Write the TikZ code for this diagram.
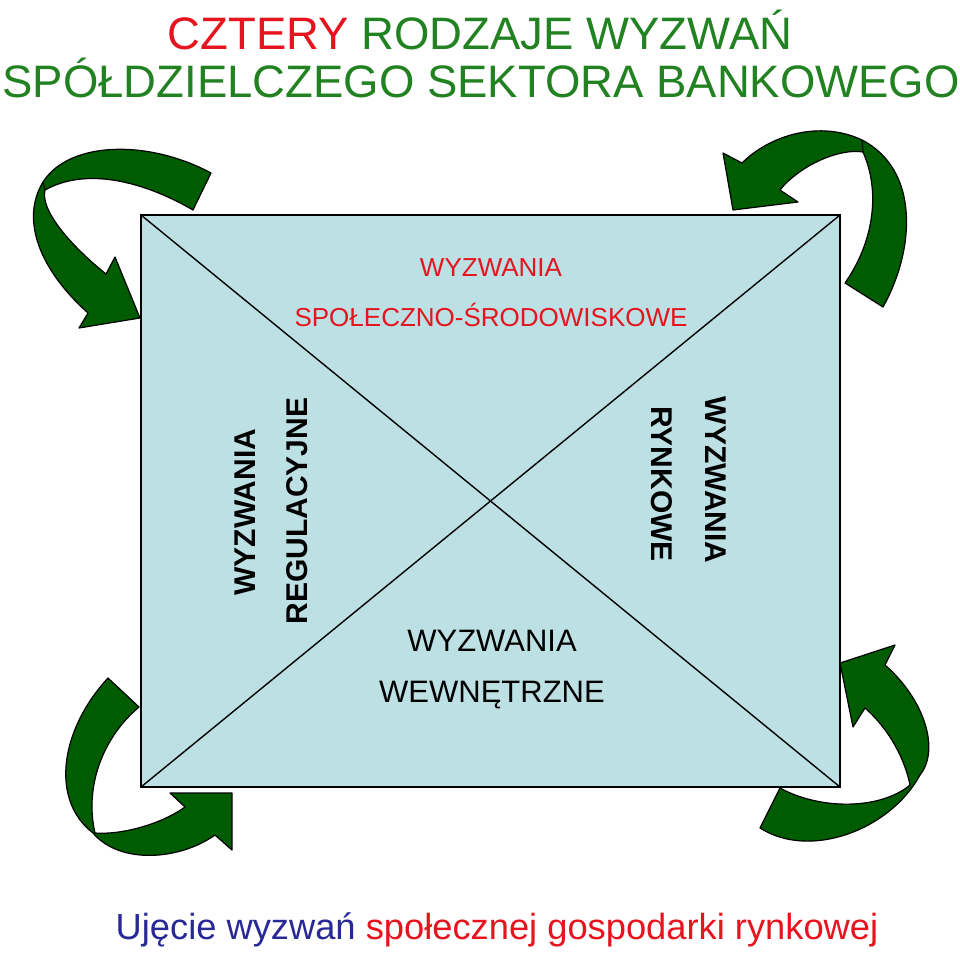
\documentclass[tikz,border=0pt]{standalone}
\usepackage{fontspec}
\setmainfont{Liberation Sans}
\definecolor{arrg}{RGB}{0,92,0}
\definecolor{boxc}{RGB}{188,224,228}
\definecolor{tgreen}{RGB}{34,130,34}
\definecolor{tred}{RGB}{230,20,30}
\definecolor{tblue}{RGB}{40,40,150}
\begin{document}
\begin{tikzpicture}[x=1pt,y=-1pt,
 arr/.style={fill=arrg,draw=black,line width=1.2pt,line join=round},
 lbl/.style={inner sep=0pt,font=\fontsize{24}{24}\selectfont}]
\useasboundingbox (0,0) rectangle (960,953);
\node[inner sep=0pt,font=\fontsize{45.5}{45.5}\selectfont] (t1) at (480,30) {\textcolor{tred}{CZTERY} \textcolor{tgreen}{RODZAJE WYZWAŃ}};
\node[inner sep=0pt,font=\fontsize{45.5}{45.5}\selectfont,text=tgreen] (t2) at (481,78) {SPÓŁDZIELCZEGO SEKTORA BANKOWEGO};
\draw[fill=boxc,line width=1.4pt] (141,215) coordinate (a) rectangle (840,787) coordinate (c);
\coordinate (b) at (840,215); \coordinate (d) at (141,787);
\draw[line width=1.4pt] (a) -- (c); \draw[line width=1.4pt] (b) -- (d);
\node[lbl,text=tred,font=\fontsize{26}{26}\selectfont] (s1) at (491,268) {WYZWANIA};
\node[lbl,text=tred,font=\fontsize{26}{26}\selectfont] (s2) at (491,315) {SPOŁECZNO-ŚRODOWISKOWE};
\node[lbl,rotate=90,font=\fontsize{30}{30}\selectfont\bfseries] (l1) at (245,512) {WYZWANIA};
\node[lbl,rotate=90,font=\fontsize{30}{30}\selectfont\bfseries] (l2) at (297,511) {REGULACYJNE};
\node[lbl,rotate=-90,font=\fontsize{30}{30}\selectfont\bfseries] (r1) at (716,480) {WYZWANIA};
\node[lbl,rotate=-90,font=\fontsize{30}{30}\selectfont\bfseries] (r2) at (662,484) {RYNKOWE};
\node[lbl,font=\fontsize{31}{31}\selectfont] (w1) at (492,641) {WYZWANIA};
\node[lbl,font=\fontsize{31}{31}\selectfont] (w2) at (492,695) {WEWNĘTRZNE};
\node[inner sep=0pt,font=\fontsize{36.3}{36.3}\selectfont] (cap) at (497,930) {\textcolor{tblue}{Ujęcie wyzwań} \textcolor{tred}{społecznej gospodarki rynkowej}};
% arrows
\draw[arr] (211,173) .. controls (150,140) and (70,140) .. (43,182) .. controls (20,220) and (40,270) .. (88,313) -- (79,328) -- (140,318) -- (115,257) -- (106,274) .. controls (70,245) and (40,210) .. (45,190) .. controls (90,165) and (150,185) .. (193,210) -- cycle;
\draw[arr] (45,190) -- (43,182);
\draw[arr] (883,307) .. controls (915,250) and (920,170) .. (862,140) .. controls (820,120) and (770,135) .. (742,163) -- (723,153) -- (733,210) -- (798,202) -- (780,190) .. controls (800,165) and (840,148) .. (863,152) .. controls (880,190) and (875,240) .. (845,283) -- cycle;
\draw[arr] (862,140) -- (863,152);
\draw[arr] (108,678) .. controls (60,730) and (50,800) .. (93,833) .. controls (120,865) and (180,860) .. (215,835) -- (232,850) -- (232,793) -- (170,793) -- (185,807) .. controls (160,825) and (120,835) .. (95,833) .. controls (85,790) and (100,740) .. (139,707) -- cycle;
\draw[arr] (885,665) .. controls (925,700) and (940,750) .. (920,775) .. controls (890,830) and (810,860) .. (760,828) -- (780,788) .. controls (820,810) and (880,810) .. (910,785) .. controls (905,760) and (890,730) .. (865,708) -- (853,727) -- (840,663) -- (895,645) -- cycle;
\end{tikzpicture}
\end{document}
